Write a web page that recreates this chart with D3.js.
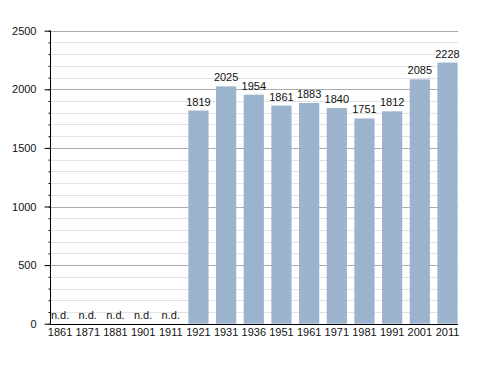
<!DOCTYPE html>
<html>
<head>
<meta charset="utf-8">
<script src="https://cdn.jsdelivr.net/npm/d3@7"></script>
<style>
  body { margin: 0; background: #fff; }
  text { font-family: "Liberation Sans", Arial, sans-serif; font-size: 11px; fill: #111; }
</style>
</head>
<body>
<div id="vis"></div>
<script>
// census years and population (null = no data)
var years = ['1861','1871','1881','1901','1911','1921','1931','1936','1951','1961','1971','1981','1991','2001','2011'];
var population = [null, null, null, null, null, 1819, 2025, 1954, 1861, 1883, 1840, 1751, 1812, 2085, 2228];
var majorTicks = [0, 500, 1000, 1500, 2000, 2500];
var minorTicks = d3.range(0, 2501, 100);

var width = 488, height = 373;
var plotLeft = 50, plotRight = 458, plotTop = 30.7, plotBottom = 323.7;

var svg = d3.select('#vis').append('svg')
  .attr('width', width)
  .attr('height', height);

var x = d3.scaleBand()
  .domain(years)
  .range([plotLeft, plotLeft + 15 * 27.67])
  .paddingInner(0);

var barW = x.bandwidth() * 0.73;

var y = d3.scaleLinear()
  .domain([0, 2500])
  .range([plotBottom, plotTop]);

// minor grid
svg.append('g').selectAll('line')
  .data(minorTicks.filter(d => d % 500 !== 0))
  .enter().append('line')
  .attr('x1', plotLeft).attr('x2', plotRight)
  .attr('y1', d => Math.round(y(d)) + 0.5).attr('y2', d => Math.round(y(d)) + 0.5)
  .attr('stroke', '#e2e2e2').attr('stroke-width', 1);

// major grid
svg.append('g').selectAll('line')
  .data(majorTicks.filter(d => d > 0))
  .enter().append('line')
  .attr('x1', plotLeft).attr('x2', plotRight)
  .attr('y1', d => Math.round(y(d)) + 0.5).attr('y2', d => Math.round(y(d)) + 0.5)
  .attr('stroke', '#ababab').attr('stroke-width', 1);

var data = years.map((yr, i) => ({year: yr, value: population[i]}));

// bars
svg.append('g').selectAll('rect')
  .data(data.filter(d => d.value !== null))
  .enter().append('rect')
  .attr('x', d => x(d.year))
  .attr('y', d => y(d.value))
  .attr('width', barW)
  .attr('height', d => y(0) - y(d.value))
  .attr('fill', '#9cb3cd');

// value labels
svg.append('g').selectAll('text')
  .data(data)
  .enter().append('text')
  .attr('x', d => x(d.year) + barW / 2)
  .attr('y', d => d.value === null ? y(0) - 5 : y(d.value) - 5)
  .attr('text-anchor', 'middle')
  .text(d => d.value === null ? 'n.d.' : d.value);

// y axis
var yMinor = d3.axisLeft(y).tickValues(minorTicks).tickSize(2).tickFormat('');
svg.append('g')
  .attr('transform', 'translate(' + (plotLeft + 0.5) + ',0)')
  .call(yMinor)
  .call(g => g.select('.domain').remove())
  .selectAll('line').attr('stroke', '#000');

var yAxis = d3.axisLeft(y).tickValues(majorTicks).tickSize(6).tickPadding(8).tickFormat(d3.format('d'));
svg.append('g')
  .attr('transform', 'translate(' + (plotLeft + 0.5) + ',0)')
  .call(yAxis)
  .call(g => g.select('.domain').attr('d', 'M0,' + plotTop + 'V' + plotBottom).attr('stroke', '#000'))
  .call(g => g.selectAll('text').attr('font-size', null).attr('font-family', null).attr('fill', '#111'))
  .call(g => g.selectAll('line').attr('stroke', '#000'));

// x axis
var xAxis = d3.axisBottom(x).tickSize(0).tickPadding(4);
var gx = svg.append('g')
  .attr('transform', 'translate(0,' + (Math.round(plotBottom) + 0.5) + ')')
  .call(xAxis);
gx.select('.domain').attr('d', 'M' + plotLeft + ',0H' + plotRight).attr('stroke', '#000');
gx.selectAll('.tick')
  .attr('transform', d => 'translate(' + (x(d) + barW / 2) + ',0)');
gx.selectAll('text').attr('font-size', null).attr('font-family', null).attr('fill', '#111');
</script>
</body>
</html>
